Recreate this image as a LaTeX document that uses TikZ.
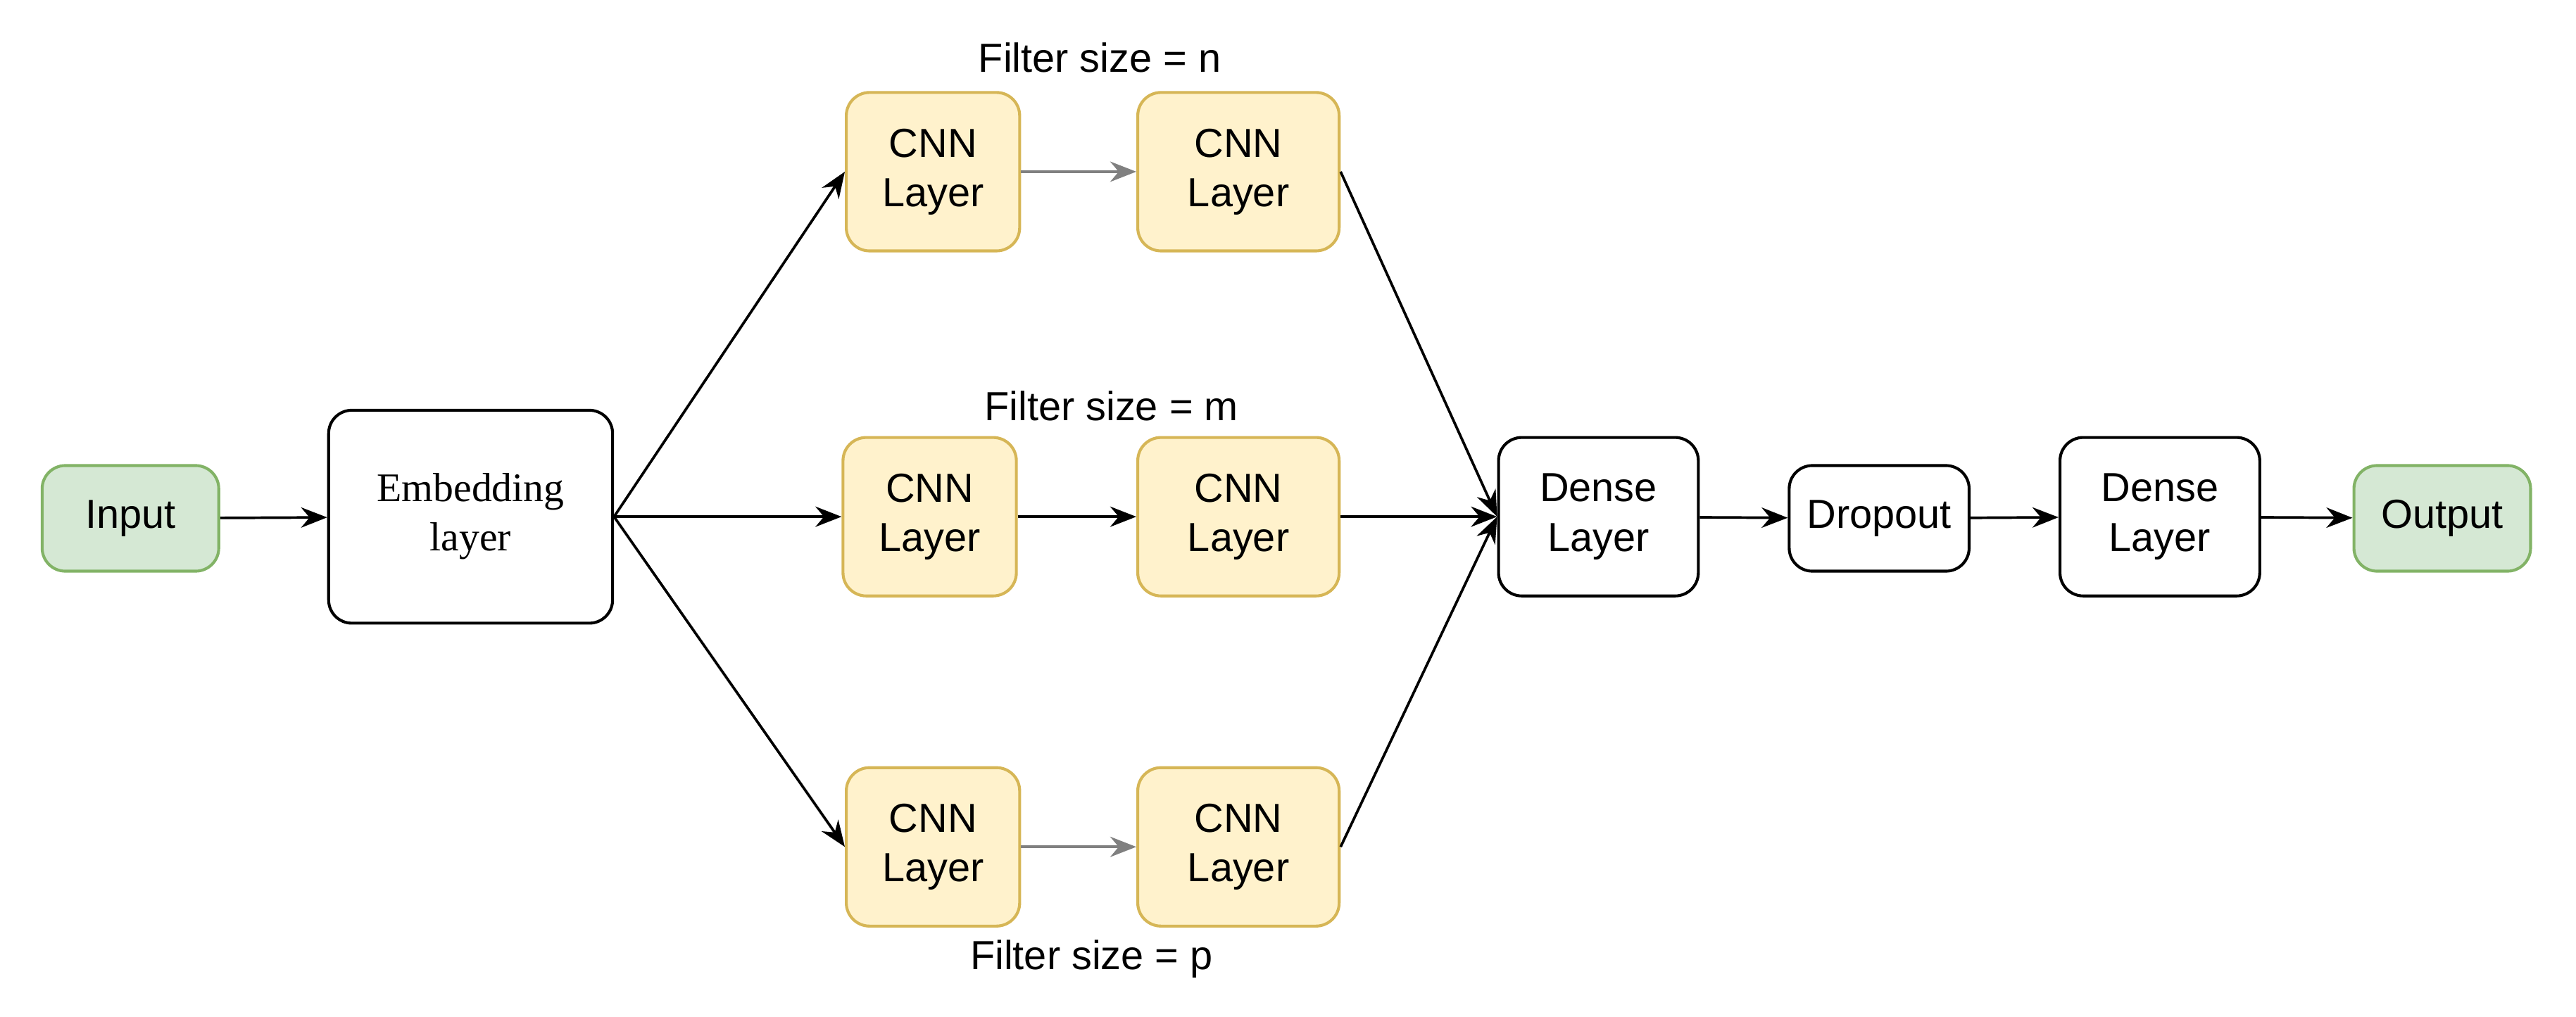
\documentclass[tikz,border=0pt]{standalone}
\usepackage{fontspec}
\setmainfont{Liberation Sans}
\usetikzlibrary{arrows.meta}
\definecolor{grfill}{HTML}{D5E8D4}
\definecolor{grline}{HTML}{82B366}
\definecolor{yefill}{HTML}{FFF2CC}
\definecolor{yeline}{HTML}{D6B656}
\tikzset{
  box/.style={draw, rounded corners=8pt, line width=1pt, align=center,
    font=\fontsize{14}{17}\selectfont, inner sep=0pt},
  io/.style={box, fill=grfill, draw=grline, minimum width=2.14cm, minimum height=1.28cm},
  cnn/.style={box, fill=yefill, draw=yeline, minimum width=2.1cm, minimum height=1.92cm},
  cnnw/.style={cnn, minimum width=2.44cm},
  dense/.style={box, minimum width=2.42cm, minimum height=1.92cm},
  arr/.style={-{Stealth[length=9pt,width=7pt]}, line width=0.9pt},
  lab/.style={font=\fontsize{14}{17}\selectfont}
}
\begin{document}
\begin{tikzpicture}[x=0.02cm,y=-0.02cm]
\useasboundingbox (0,0) rectangle (1560,616);
\node[io] (input) at (79,314) {Input};
\node[box, minimum width=3.44cm, minimum height=2.58cm,
  font=\fontsize{14}{17}\rmfamily\fontspec{Liberation Serif}] (emb) at (285,313) {Embedding\\layer};

\node[cnn] (c1a) at (565,104) {CNN\\Layer};
\node[cnnw] (c1b) at (750,104) {CNN\\Layer};
\node[cnn] (c2a) at (563,313) {CNN\\Layer};
\node[cnnw] (c2b) at (750,313) {CNN\\Layer};
\node[cnn] (c3a) at (565,513) {CNN\\Layer};
\node[cnnw] (c3b) at (750,513) {CNN\\Layer};

\node[lab] (fn) at (666,35) {Filter size = n};
\node[lab] (fm) at (673,246) {Filter size = m};
\node[lab] (fp) at (661,581) {Filter size = p};

\node[dense] (d1) at (968,313) {Dense\\Layer};
\node[box, minimum width=2.18cm, minimum height=1.28cm] (drop) at (1138,314) {Dropout};
\node[dense] (d2) at (1308,313) {Dense\\Layer};
\node[io] (output) at (1479,314) {Output};

% connectors
\draw[arr] (input) -- (emb);
\draw[arr] (emb.east) -- (c1a.west);
\draw[arr] (emb.east) -- (c2a.west);
\draw[arr] (emb.east) -- (c3a.west);
\draw[arr, draw=gray] (c1a) -- (c1b);
\draw[arr] (c2a) -- (c2b);
\draw[arr, draw=gray] (c3a) -- (c3b);
\draw[arr] (c1b.east) -- (d1.west);
\draw[arr] (c2b.east) -- (d1.west);
\draw[arr] (c3b.east) -- (d1.west);
\draw[arr] (d1) -- (drop);
\draw[arr] (drop) -- (d2);
\draw[arr] (d2) -- (output);
\end{tikzpicture}
\end{document}
